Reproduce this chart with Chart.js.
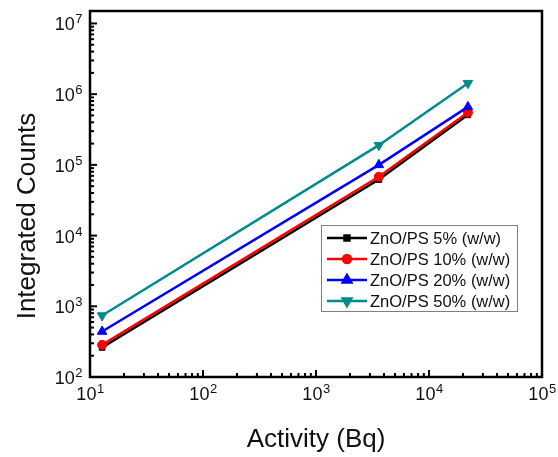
<!DOCTYPE html>
<html>
<head>
<meta charset="utf-8">
<script src="https://cdn.jsdelivr.net/npm/chart.js@4/dist/chart.umd.min.js"></script>
<style>
  html, body { margin: 0; padding: 0; background: #fff; }
  #wrap { width: 558px; height: 457px; }
</style>
</head>
<body>
<div id="wrap"><canvas id="grafico" width="558" height="457"></canvas></div>
<script>
// dados
const atividade = [12.8, 3600, 22100];
const zno5 = [262, 62000, 510000];
const zno10 = [285, 68000, 550000];
const zno20 = [440, 100000, 660000];
const zno50 = [740, 190000, 1430000];

const nomes = ['ZnO/PS 5% (w/w)', 'ZnO/PS 10% (w/w)', 'ZnO/PS 20% (w/w)', 'ZnO/PS 50% (w/w)'];
const cores = ['#000000', '#ff0000', '#0000ff', '#008b8b'];
const marcadores = ['rect', 'circle', 'triangle', 'triangle'];
const rotacoes = [0, 0, 0, 180];
const raios = [4, 4.5, 5.5, 5.5];

const expX = [1, 2, 3, 4, 5];
const expY = [2, 3, 4, 5, 6, 7];

const series = [zno5, zno10, zno20, zno50];
const FONTE = '"Liberation Sans", Arial, sans-serif';

const datasets = series.map((s, i) => ({
  label: nomes[i],
  data: s.map((v, j) => ({ x: atividade[j], y: v })),
  borderColor: cores[i],
  backgroundColor: cores[i],
  borderWidth: 2.5,
  pointStyle: marcadores[i],
  rotation: rotacoes[i],
  pointRadius: raios[i],
  pointBorderWidth: 1,
  tension: 0,
  order: 4 - i
}));

function potencia(ctx, x, y, e, alinhar) {
  ctx.font = '18px ' + FONTE;
  const wb = ctx.measureText('10').width;
  ctx.font = '13px ' + FONTE;
  const we = ctx.measureText(String(e)).width;
  let x0 = alinhar === 'center' ? x - (wb + we) / 2 : x - wb - we;
  ctx.textAlign = 'left';
  ctx.textBaseline = 'alphabetic';
  ctx.font = '18px ' + FONTE;
  ctx.fillText('10', x0, y);
  ctx.font = '13px ' + FONTE;
  ctx.fillText(String(e), x0 + wb + 0.5, y - 7);
}

const eixos = {
  id: 'eixos',
  afterDatasetsDraw(chart) {
    const ctx = chart.ctx;
    const a = chart.chartArea;
    const sx = chart.scales.x, sy = chart.scales.y;
    ctx.save();
    ctx.fillStyle = '#111';
    ctx.strokeStyle = '#000';

    // ticks do eixo x
    ctx.lineWidth = 2;
    expX.forEach(e => {
      for (let m = 1; m <= 9; m++) {
        const v = m * Math.pow(10, e);
        if (v > sx.max * 1.0001 || v < sx.min * 0.9999) continue;
        const px = sx.getPixelForValue(v);
        const len = m === 1 ? 7 : 4;
        ctx.beginPath();
        ctx.moveTo(px, a.bottom);
        ctx.lineTo(px, a.bottom - len);
        ctx.stroke();
      }
      potencia(ctx, sx.getPixelForValue(Math.pow(10, e)), a.bottom + 23, e, 'center');
    });

    // ticks do eixo y
    expY.forEach(e => {
      for (let m = 1; m <= 9; m++) {
        const v = m * Math.pow(10, e);
        if (v > sy.max * 1.0001 || v < sy.min * 0.9999) continue;
        const py = sy.getPixelForValue(v);
        const len = m === 1 ? 7 : 4;
        ctx.beginPath();
        ctx.moveTo(a.left, py);
        ctx.lineTo(a.left + len, py);
        ctx.stroke();
      }
      potencia(ctx, a.left - 8, sy.getPixelForValue(Math.pow(10, e)) + 7, e, 'right');
    });

    // moldura
    ctx.lineWidth = 2.5;
    ctx.strokeRect(a.left, a.top, a.right - a.left, a.bottom - a.top);

    // títulos dos eixos
    ctx.font = '26px ' + FONTE;
    ctx.textAlign = 'center';
    ctx.textBaseline = 'alphabetic';
    ctx.fillText('Activity (Bq)', (a.left + a.right) / 2, 447);
    ctx.save();
    ctx.translate(35, 216);
    ctx.rotate(-Math.PI / 2);
    ctx.fillText('Integrated Counts', 0, 0);
    ctx.restore();

    // legenda
    const lx = 321, ly = 225, lw = 196, lh = 86;
    ctx.fillStyle = '#fff';
    ctx.fillRect(lx, ly, lw, lh);
    ctx.strokeStyle = '#808080';
    ctx.lineWidth = 1;
    ctx.strokeRect(lx + 0.5, ly + 0.5, lw, lh);
    nomes.forEach((nome, i) => {
      const y = 238 + i * 21;
      ctx.strokeStyle = cores[i];
      ctx.fillStyle = cores[i];
      ctx.lineWidth = 2.5;
      ctx.beginPath();
      ctx.moveTo(327, y);
      ctx.lineTo(367, y);
      ctx.stroke();
      Chart.helpers.drawPoint(ctx, {
        pointStyle: marcadores[i],
        rotation: rotacoes[i],
        radius: raios[i] - 0.5,
        borderWidth: 1
      }, 347, y);
      ctx.fillStyle = '#111';
      ctx.font = '16.5px ' + FONTE;
      ctx.textAlign = 'left';
      ctx.textBaseline = 'middle';
      ctx.fillText(nome, 370, y + 1);
    });
    ctx.restore();
  }
};

new Chart(document.getElementById('grafico').getContext('2d'), {
  type: 'line',
  data: { datasets: datasets },
  options: {
    responsive: false,
    animation: false,
    layout: { padding: { left: 90, right: 16, top: 11, bottom: 80 } },
    plugins: { legend: { display: false }, tooltip: { enabled: false } },
    scales: {
      x: { type: 'logarithmic', min: 10, max: 100000, display: false },
      y: { type: 'logarithmic', min: 100, max: 15000000, display: false }
    }
  },
  plugins: [eixos]
});
</script>
</body>
</html>
